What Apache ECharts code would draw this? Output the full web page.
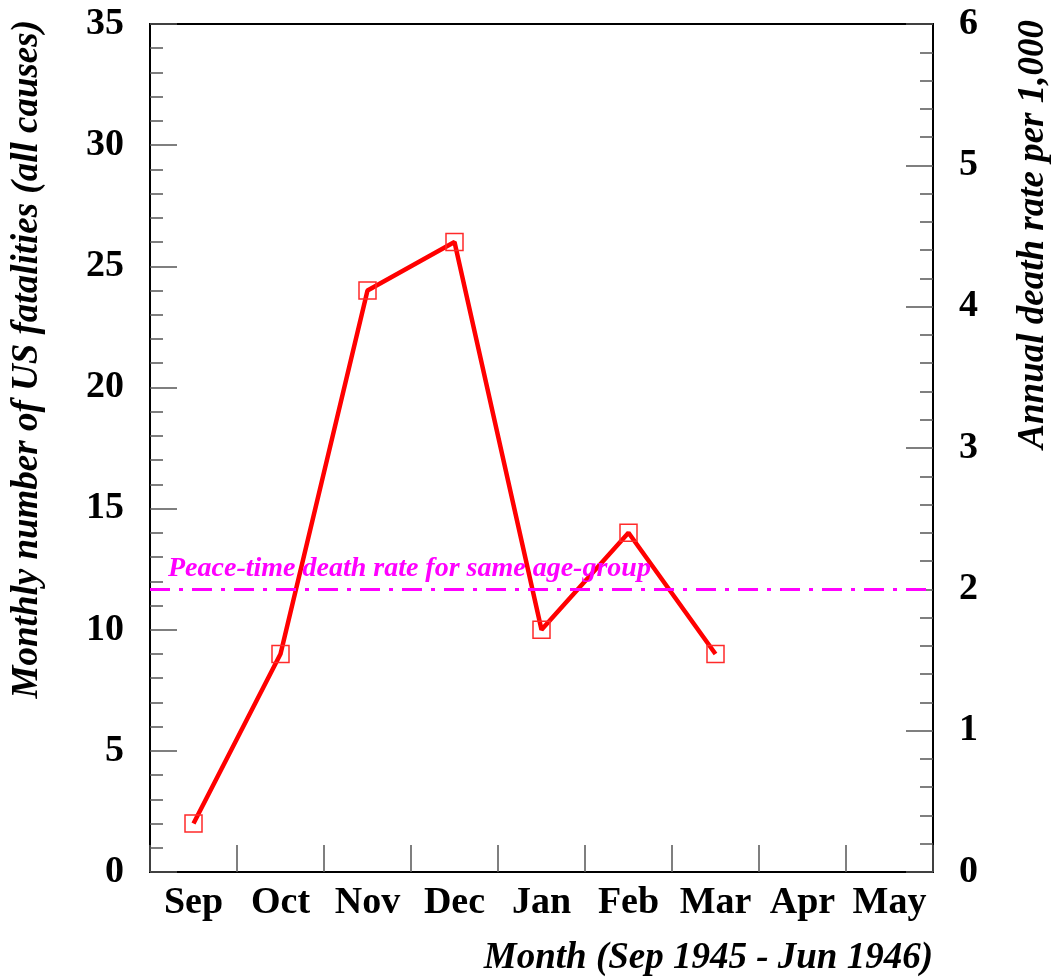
<!DOCTYPE html>
<html>
<head>
<meta charset="utf-8">
<script src="https://cdn.jsdelivr.net/npm/echarts@6/dist/echarts.min.js"></script>
<style>
html,body{margin:0;padding:0;background:#fff;}
#chart{width:1051px;height:977px;}
</style>
</head>
<body>
<div id="chart"></div>
<script>
var months = ['Sep', 'Oct', 'Nov', 'Dec', 'Jan', 'Feb', 'Mar', 'Apr', 'May'];
var fatalities = [2, 9, 24, 26, 10, 14, 9];
var peaceRate = 2.0;
var leftTicks = {min: 0, max: 35, interval: 5};
var rightTicks = {min: 0, max: 6, interval: 1};

var FONT = "'Liberation Serif', 'Times New Roman', serif";
var chart = echarts.init(document.getElementById('chart'));

function yAxisCfg(t, pos) {
  return {
    type: 'value', position: pos, min: t.min, max: t.max, interval: t.interval,
    axisLine: {show: true, lineStyle: {color: '#000', width: 2}},
    axisTick: {show: true, inside: true, length: 27, lineStyle: {color: '#555', width: 1.5}},
    minorTick: {show: true, splitNumber: 5, length: 13, lineStyle: {color: '#555', width: 1.5}},
    splitLine: {show: false},
    axisLabel: {margin: 26, color: '#000', fontFamily: FONT, fontWeight: 'bold', fontSize: 38}
  };
}

chart.setOption({
  animation: false,
  backgroundColor: '#fff',
  grid: {left: 150, right: 118, top: 24, bottom: 105, show: true, borderColor: '#000', borderWidth: 2, backgroundColor: 'transparent'},
  xAxis: {
    type: 'category', data: months, boundaryGap: true,
    axisLine: {show: true, lineStyle: {color: '#000', width: 2}},
    axisTick: {show: true, inside: true, length: 27, interval: 0, lineStyle: {color: '#555', width: 1.5}},
    axisLabel: {margin: 12, interval: 0, color: '#000', fontFamily: FONT, fontWeight: 'bold', fontSize: 38},
    splitLine: {show: false}
  },
  yAxis: [yAxisCfg(leftTicks, 'left'), yAxisCfg(rightTicks, 'right')],
  series: [
    {
      type: 'line', name: 'fatalities', data: fatalities, yAxisIndex: 0,
      symbol: 'rect', symbolSize: 17, showAllSymbol: true,
      lineStyle: {color: '#ff0000', width: 4.5},
      itemStyle: {color: 'rgba(255,255,255,0)', borderColor: '#ff2a2a', borderWidth: 1.5},
      z: 3
    },
    {
      type: 'line', name: 'peace', data: [], yAxisIndex: 1,
      markLine: {
        silent: true, symbol: 'none',
        lineStyle: {color: '#ff00ff', width: 3, type: [20, 9, 4, 9]},
        label: {
          show: true, position: 'insideStartTop', distance: [18, 7],
          formatter: 'Peace-time death rate for same age-group',
          color: '#ff00ff', fontFamily: FONT, fontWeight: 'bold', fontStyle: 'italic', fontSize: 28
        },
        data: [{yAxis: peaceRate}]
      },
      z: 2
    }
  ],
  graphic: [
    {type: 'text', x: 27, y: 20, rotation: Math.PI / 2,
     style: {text: 'Monthly number of US fatalities (all causes)', fill: '#000', font: "italic bold 37px " + FONT, align: 'right', verticalAlign: 'middle'}},
    {type: 'text', x: 1033, y: 20, rotation: Math.PI / 2,
     style: {text: 'Annual death rate per 1,000', fill: '#000', font: "italic bold 37px " + FONT, align: 'right', verticalAlign: 'middle'}},
    {type: 'text', x: 933, y: 958,
     style: {text: 'Month (Sep 1945 - Jun 1946)', fill: '#000', font: "italic bold 37px " + FONT, align: 'right', verticalAlign: 'middle'}}
  ]
});
</script>
</body>
</html>
